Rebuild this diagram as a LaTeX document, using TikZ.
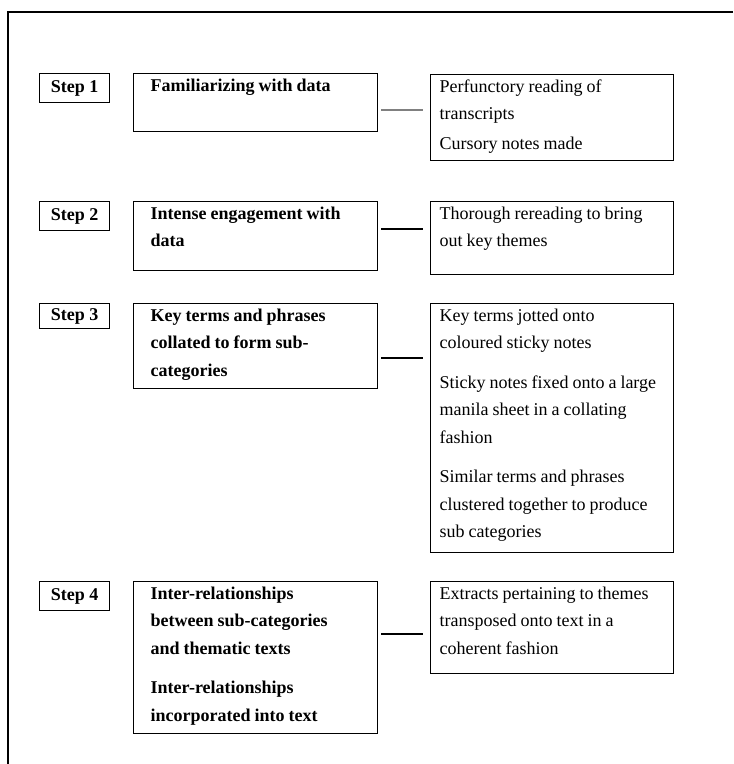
\documentclass[tikz,border=0pt]{standalone}
\usepackage{fontspec}
\setmainfont{Liberation Serif}
\newcommand{\diagfont}{\fontsize{9}{13.75}\selectfont}
\tikzset{
  box/.style={draw, line width=0.7pt, anchor=north west, align=left,
    inner ysep=0pt, text height=8.75pt,
    execute at begin node={\spaceskip=0.22em plus 0.05em\relax
      \xspaceskip=0.25em\relax}},
  stepbox/.style={draw, line width=0.7pt, anchor=north west,
    font=\diagfont\bfseries, minimum width=35pt, minimum height=14.5pt,
    inner sep=0pt},
  phasebox/.style={box, font=\diagfont\bfseries, text width=105pt,
    inner xsep=8.5pt, text depth=#1},
  notebox/.style={box, font=\diagfont, text width=112.5pt,
    inner xsep=4.5pt, text depth=#1},
  link/.style={line width=0.7pt, shorten <=1.5pt, shorten >=3.5pt}
}
\begin{document}
\begin{tikzpicture}[x=0.5pt, y=-0.5pt]
  \useasboundingbox (0,0) rectangle (733,764);
  % frame
  \draw[line width=0.7pt] (733,12) -- (8,12) -- (8,764);

  % step 1
  \node[stepbox] (step1) at (39,73) {Step 1};
  \node[phasebox=20.25pt] (phase1) at (133,73) {Familiarizing with data};
  \node[notebox=34.25pt] (note1) at (430,74)
    {Perfunctory reading of\\ transcripts\\[1pt] Cursory notes made};

  % step 2
  \node[stepbox] (step2) at (39,201) {Step 2};
  \node[phasebox=25.75pt] (phase2) at (133,201)
    {Intense engagement with\\ data};
  \node[notebox=27.75pt] (note2) at (430,201)
    {Thorough rereading to bring\\ out key themes};

  % step 3
  \node[stepbox, minimum height=12.5pt] (step3) at (39,303) {Step 3};
  \node[phasebox=33.75pt] (phase3) at (133,303)
    {Key terms and phrases\\ collated to form sub-\\ categories};
  \node[notebox=115.75pt] (note3) at (430,303)
    {Key terms jotted onto\\ coloured sticky notes\\[6pt]
     Sticky notes fixed onto a large\\ manila sheet in a collating\\ fashion\\[6pt]
     Similar terms and phrases\\ clustered together to produce\\ sub categories};

  % step 4
  \node[stepbox] (step4) at (39,581) {Step 4};
  \node[phasebox=67.25pt] (phase4) at (133,581)
    {Inter-relationships\\ between sub-categories\\ and thematic texts\\[6pt]
     Inter-relationships\\ incorporated into text};
  \node[notebox=37.25pt] (note4) at (430,581)
    {Extracts pertaining to themes\\ transposed onto text in a\\ coherent fashion};

  % connectors
  \coordinate (y1) at (0,110);
  \coordinate (y2) at (0,229);
  \coordinate (y3) at (0,358);
  \coordinate (y4) at (0,634);
  \draw[link, gray] (phase1.east |- y1) -- (note1.west |- y1);
  \draw[link] (phase2.east |- y2) -- (note2.west |- y2);
  \draw[link] (phase3.east |- y3) -- (note3.west |- y3);
  \draw[link] (phase4.east |- y4) -- (note4.west |- y4);
\end{tikzpicture}
\end{document}
